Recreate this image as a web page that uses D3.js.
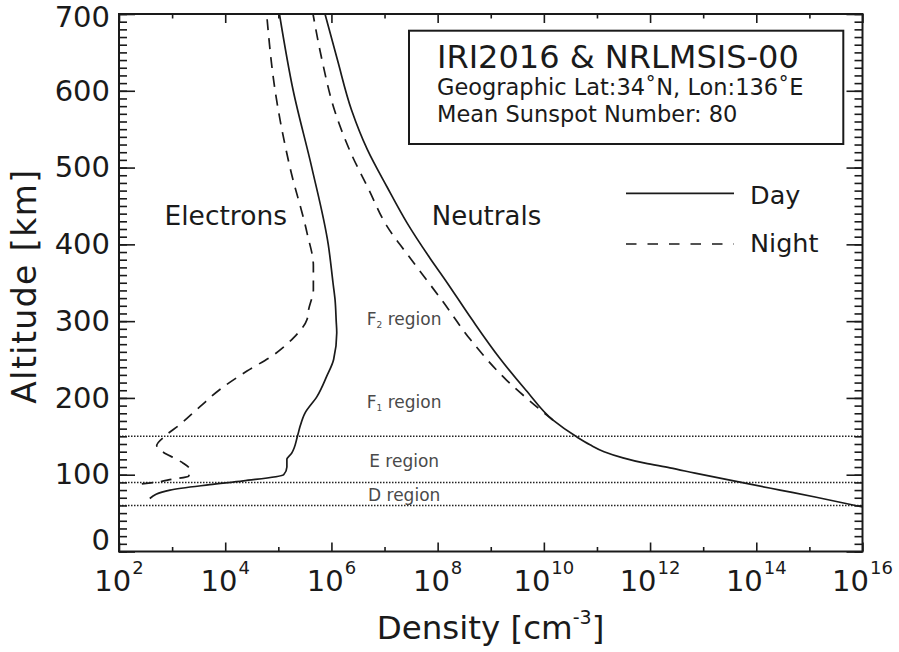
<!DOCTYPE html>
<html>
<head>
<meta charset="utf-8">
<script src="https://cdn.jsdelivr.net/npm/d3@7"></script>
<style>
  html, body { margin: 0; padding: 0; background: #fff; }
  svg { display: block; font-family: "DejaVu Sans", Verdana, sans-serif; }
</style>
</head>
<body>
<svg id="chart" width="899" height="652"></svg>
<script>
// ---- Profiles: altitude [km] and density [cm^-3], ordered by altitude ----
const electronDayAlt = [69, 80, 87, 92, 100, 110, 120, 128, 150, 163, 180, 202, 228, 250, 285, 300, 328, 350, 400, 500, 600, 700];
const electronDayDensity = [380, 912, 5130, 2.19e4, 1.26e5, 1.45e5, 1.45e5, 1.78e5, 2.29e5, 2.57e5, 3.16e5, 5.37e5, 8.13e5, 1.10e6, 1.26e6, 1.23e6, 1.17e6, 1.07e6, 8.71e5, 4.27e5, 1.91e5, 1.05e5];

const electronNightAlt = [88, 91, 94, 98, 106, 115, 121, 129, 138, 150, 165, 189, 211, 235, 256, 278, 302, 315, 341, 372, 415, 500, 600, 700];
const electronNightDensity = [269, 589, 977, 2040, 2190, 1620, 1150, 692, 513, 724, 1380, 3390, 7940, 2.57e4, 8.13e4, 1.91e5, 3.47e5, 3.72e5, 4.57e5, 4.57e5, 3.47e5, 1.66e5, 8.71e4, 6.03e4];

const neutralDayAlt = [58, 71, 80, 89, 102, 109, 115, 122, 130, 139, 149, 171, 210, 253, 302, 354, 382, 428, 475, 523, 575, 640, 700];
const neutralDayDensity = [1e16, 1.28e15, 2.8e14, 6.14e13, 7.03e12, 2.37e12, 8.04e11, 3.09e11, 1.36e11, 7.4e10, 4.21e10, 1.49e10, 4.61e9, 1.43e9, 4.44e8, 1.38e8, 7.18e7, 2.65e7, 1.11e7, 4.78e6, 2.39e6, 1.30e6, 7.57e5];

const neutralNightAlt = [171, 178, 197, 223, 275, 328, 380, 425, 471, 523, 575, 640, 700];
const neutralNightDensity = [1.49e10, 1.12e10, 5.25e9, 2.0e9, 4.25e8, 1.18e8, 3.21e7, 1.08e7, 5.08e6, 2.19e6, 1.14e6, 6.65e5, 4.5e5];

// Region boundaries [km] and region labels
const boundaryAltitudes = [150, 90, 60];
const regionNames = ["F", "F", "E", "D"];
const regionSubscripts = ["2", "1", "", ""];
const regionLabelAlt = [295, 186.5, 110.4, 66.2];

// Axis ticks
const altMajorTicks = [0, 100, 200, 300, 400, 500, 600, 700];
const altMinorTicks = d3.range(0, 701, 10);
const densityMajorExponents = [2, 4, 6, 8, 10, 12, 14, 16];
const densityMinorExponents = [3, 5, 7, 9, 11, 13, 15];

// Annotation text
const infoLines = ["IRI2016 & NRLMSIS-00", "Geographic Lat:34˚N, Lon:136˚E", "Mean Sunspot Number: 80"];
const legendLabels = ["Day", "Night"];

// ---- Layout ----
const svg = d3.select("#chart");
const plotLeft = 119, plotRight = 862.5, plotTop = 14, plotBottom = 551.5;
const ink = "#1a1a1a";
const DASH = "11,8";

const x = d3.scaleLog().domain([1e2, 1e16]).range([plotLeft, plotRight]);
const y = d3.scaleLinear().domain([0, 700]).range([plotBottom, plotTop]);

svg.append("defs").append("clipPath").attr("id", "plotClip")
  .append("rect").attr("x", plotLeft).attr("y", plotTop)
  .attr("width", plotRight - plotLeft).attr("height", plotBottom - plotTop);

// Region boundary dotted lines
svg.append("g").selectAll("line").data(boundaryAltitudes).join("line")
  .attr("x1", x(1e2)).attr("x2", x(1e16))
  .attr("y1", d => y(d)).attr("y2", d => y(d))
  .attr("stroke", "#222").attr("stroke-width", 1.5).attr("stroke-dasharray", "1.5,1.5");

// Region labels
svg.append("g").selectAll("text").data(regionNames).join("text")
  .attr("x", x(10 ** 7.37)).attr("y", (d, i) => y(regionLabelAlt[i]))
  .attr("text-anchor", "middle").attr("font-size", 17).attr("fill", "#4a4a4a")
  .each(function (d, i) {
    const t = d3.select(this);
    t.append("tspan").text(d);
    if (regionSubscripts[i]) {
      t.append("tspan").attr("font-size", 9).attr("dy", 3).text(regionSubscripts[i]);
      t.append("tspan").attr("dy", -3).text(" region");
    } else {
      t.append("tspan").text(" region");
    }
  });

// Profile curves
const line = d3.line().x(d => x(d[1])).y(d => y(d[0])).curve(d3.curveMonotoneY);
const series = [
  { alt: electronDayAlt, dens: electronDayDensity, dash: null },
  { alt: electronNightAlt, dens: electronNightDensity, dash: DASH },
  { alt: neutralDayAlt, dens: neutralDayDensity, dash: null },
  { alt: neutralNightAlt, dens: neutralNightDensity, dash: DASH }
];
svg.append("g").attr("clip-path", "url(#plotClip)")
  .selectAll("path").data(series).join("path")
  .attr("d", s => line(s.alt.map((a, i) => [a, s.dens[i]])))
  .attr("fill", "none").attr("stroke", ink).attr("stroke-width", 1.7)
  .attr("stroke-dasharray", s => s.dash);

// Axes with inward ticks on all four sides
function styleAxis(g) {
  g.select(".domain").remove();
  g.selectAll(".tick line").attr("stroke", ink).attr("stroke-width", 1.6);
}
svg.append("g").attr("transform", `translate(${plotLeft},0)`)
  .call(d3.axisLeft(y).tickValues(altMinorTicks).tickSize(-8).tickFormat(""))
  .call(styleAxis);
svg.append("g").attr("transform", `translate(${plotRight},0)`)
  .call(d3.axisRight(y).tickValues(altMinorTicks).tickSize(-8).tickFormat(""))
  .call(styleAxis);
svg.append("g").attr("transform", `translate(${plotRight},0)`)
  .call(d3.axisRight(y).tickValues(altMajorTicks).tickSize(-16).tickFormat(""))
  .call(styleAxis);
svg.append("g").attr("transform", `translate(${plotLeft},0)`)
  .call(d3.axisLeft(y).tickValues(altMajorTicks).tickSize(-16).tickPadding(9).tickFormat(d3.format("d")))
  .call(styleAxis)
  .call(g => g.selectAll(".tick text").attr("font-size", 29).attr("fill", ink)
    .attr("font-family", "DejaVu Sans, sans-serif")
    // keep the end labels inside the page and clear of the density labels
    .attr("transform", d => d === 0 ? "translate(0,-11)" : d === 700 ? "translate(0,3)" : null));

const minorX = densityMinorExponents.map(e => 10 ** e);
const majorX = densityMajorExponents.map(e => 10 ** e);
[[plotBottom, d3.axisBottom], [plotTop, d3.axisTop]].forEach(([yy, axisFn]) => {
  svg.append("g").attr("transform", `translate(0,${yy})`)
    .call(axisFn(x).tickValues(minorX).tickSize(-4.5).tickFormat(""))
    .call(styleAxis);
  svg.append("g").attr("transform", `translate(0,${yy})`)
    .call(axisFn(x).tickValues(majorX).tickSize(-9).tickFormat(""))
    .call(styleAxis);
});

// Density tick labels as powers of ten
svg.append("g").selectAll("text").data(densityMajorExponents).join("text")
  .attr("x", d => x(10 ** d)).attr("y", 590.7)
  .attr("text-anchor", "middle").attr("font-size", 29).attr("fill", ink)
  .each(function (d) {
    const t = d3.select(this);
    t.append("tspan").text("10");
    t.append("tspan").attr("font-size", 18).attr("dy", -17).attr("dx", 1).text(d);
  });

// Plot frame
svg.append("rect").attr("x", plotLeft).attr("y", plotTop)
  .attr("width", plotRight - plotLeft).attr("height", plotBottom - plotTop)
  .attr("fill", "none").attr("stroke", ink).attr("stroke-width", 2);

// Axis titles
svg.append("text")
  .attr("transform", `translate(35.5,${(plotTop + plotBottom) / 2 + 4}) rotate(-90)`)
  .attr("text-anchor", "middle").attr("font-size", 33).attr("fill", ink)
  .attr("textLength", 234).attr("lengthAdjust", "spacing")
  .text("Altitude [km]");

const xt = svg.append("text").attr("x", 490.5).attr("y", 638.7)
  .attr("text-anchor", "middle").attr("font-size", 32.5).attr("fill", ink);
xt.append("tspan").text("Density [cm");
xt.append("tspan").attr("font-size", 19).attr("dy", -15).text("-3");
xt.append("tspan").attr("dy", 15).text("]");

// Species labels
svg.append("text").attr("x", 164.5).attr("y", 225).attr("font-size", 26.5).attr("fill", ink).text("Electrons");
svg.append("text").attr("x", 431.7).attr("y", 225).attr("font-size", 26).attr("fill", ink).text("Neutrals");

// Info box
svg.append("rect").attr("x", 409).attr("y", 30.7).attr("width", 434.3).attr("height", 113.3)
  .attr("fill", "#fff").attr("stroke", ink).attr("stroke-width", 2);
svg.append("g").selectAll("text").data(infoLines).join("text")
  .attr("x", 437)
  .attr("y", (d, i) => [67.5, 94.5, 121.7][i])
  .attr("font-size", (d, i) => i === 0 ? 32 : 22.5)
  .attr("fill", ink)
  .text(d => d);

// Line-style legend
const legend = svg.append("g");
legend.selectAll("line").data(legendLabels).join("line")
  .attr("x1", 626).attr("x2", 734)
  .attr("y1", (d, i) => [193.3, 244][i]).attr("y2", (d, i) => [193.3, 244][i])
  .attr("stroke", ink).attr("stroke-width", 1.7)
  .attr("stroke-dasharray", (d, i) => i === 1 ? "10.5,11" : null);
legend.selectAll("text").data(legendLabels).join("text")
  .attr("x", 750).attr("y", (d, i) => [204, 252][i])
  .attr("font-size", 25.5).attr("fill", ink).text(d => d);
</script>
</body>
</html>
